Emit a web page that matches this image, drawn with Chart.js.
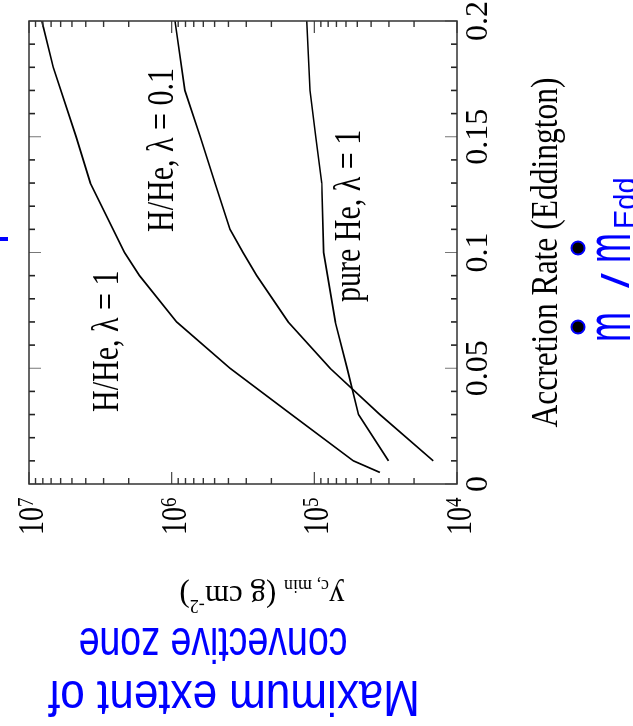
<!DOCTYPE html>
<html>
<head>
<meta charset="utf-8">
<title>Convective zone vs accretion rate</title>
<script src="https://cdn.jsdelivr.net/npm/chart.js@4.4.1/dist/chart.umd.min.js"></script>
<style>
html, body { margin: 0; padding: 0; background: #fff; overflow: hidden; }
/* the figure is laid out as a normal 726x633 chart and then turned a quarter turn anticlockwise */
#wrap {
    position: absolute; left: 0; top: 0;
    width: 726px; height: 633px;
    transform-origin: 0 0;
    transform: translateY(726px) rotate(-90deg);
}
</style>
</head>
<body>
<div id="wrap"><canvas id="chart" width="726" height="633"></canvas></div>
<script>
// ============================================================================
// Data
// ============================================================================

// H/He, lambda = 1
const rateHHe1  = [0.005, 0.01, 0.03, 0.05, 0.07, 0.09, 0.1, 0.13, 0.15, 0.18, 0.2];
const depthHHe1 = [34700, 53300, 144500, 390000, 922000, 1679000, 2138000, 3715000, 4677000, 6761000, 8128000];

// H/He, lambda = 0.1
const rateHHe01  = [0.01, 0.03, 0.05, 0.07, 0.09, 0.1, 0.11, 0.13, 0.15, 0.17, 0.2];
const depthHHe01 = [14660, 34700, 77600, 152400, 253500, 316000, 390000, 496600, 631000, 807000, 948000];

// pure He, lambda = 1
const rateHe  = [0.01, 0.03, 0.05, 0.07, 0.1, 0.13, 0.15, 0.17, 0.2];
const depthHe = [30200, 49000, 58900, 71300, 86100, 88700, 97700, 107200, 113000];

// Axes
const xTickValues = [0, 0.05, 0.1, 0.15, 0.2];
const xTickLabels = ['0', '0.05', '0.1', '0.15', '0.2'];
const xMinorStep = 0.01;
const yDecades = [4, 5, 6, 7];

const SERIF = '"Liberation Serif", "Times New Roman", serif';
const SANS = '"Liberation Sans", Arial, sans-serif';
const BLUE = '#0000ff';

const toPoints = (xs, ys) => xs.map((x, i) => ({ x: x, y: ys[i] }));

// ============================================================================
// Text helpers
// ============================================================================

function drawText(ctx, text, x, y, o) {
    ctx.save();
    ctx.translate(x, y);
    if (o.rot) ctx.rotate(o.rot);
    ctx.scale(o.sx || 1, o.sy || 1);
    ctx.font = o.font;
    ctx.fillStyle = o.color || '#000';
    ctx.textAlign = o.align || 'left';
    ctx.textBaseline = 'alphabetic';
    ctx.fillText(text, 0, 0);
    ctx.restore();
}

// pieces: [{t, size, dy}] drawn one after another along a (possibly rotated) baseline, centred
function drawRich(ctx, pieces, x, y, o) {
    ctx.save();
    ctx.translate(x, y);
    if (o.rot) ctx.rotate(o.rot);
    ctx.scale(o.sx || 1, o.sy || 1);
    ctx.fillStyle = o.color || '#000';
    ctx.textBaseline = 'alphabetic';
    ctx.textAlign = 'left';
    let total = 0;
    pieces.forEach(p => {
        ctx.font = p.size + 'px ' + o.family;
        p.w = ctx.measureText(p.t).width;
        total += p.w;
    });
    let cx = -total / 2;
    pieces.forEach(p => {
        ctx.font = p.size + 'px ' + o.family;
        ctx.fillText(p.t, cx, p.dy || 0);
        cx += p.w;
    });
    ctx.restore();
}

// ============================================================================
// Frame, ticks and labels
// ============================================================================

const framePlugin = {
    id: 'frame',
    afterDraw(chart) {
        const ctx = chart.ctx;
        const a = chart.chartArea;
        const xs = chart.scales.x;
        const ys = chart.scales.y;

        const seg = (x1, y1, x2, y2, color, width) => {
            ctx.strokeStyle = color;
            ctx.lineWidth = width;
            ctx.beginPath();
            ctx.moveTo(x1, y1);
            ctx.lineTo(x2, y2);
            ctx.stroke();
        };

        ctx.save();

        // ticks on the accretion-rate axis (bottom and mirrored on top)
        const nMinor = Math.round((xs.max - xs.min) / xMinorStep);
        for (let i = 0; i <= nMinor; i++) {
            const px = xs.getPixelForValue(xs.min + i * xMinorStep);
            const major = i % 5 === 0;
            const len = major ? 12 : 6;
            const col = major ? '#777' : '#222';
            const w = major ? 1 : 1.6;
            seg(px, a.bottom, px, a.bottom - len, col, w);
            seg(px, a.top, px, a.top + len, col, w);
        }

        // log ticks (left and mirrored on right)
        yDecades.forEach(d => {
            for (let m = 1; m <= 9; m++) {
                const v = m * Math.pow(10, d);
                if (v < ys.min || v > ys.max) continue;
                const py = ys.getPixelForValue(v);
                const major = m === 1;
                const len = major ? 12 : 6;
                const col = major ? '#444' : '#333';
                const w = major ? 1.2 : 1.4;
                seg(a.left, py, a.left + len, py, col, w);
                seg(a.right, py, a.right - len, py, col, w);
            }
        });

        // frame
        ctx.strokeStyle = '#333';
        ctx.lineWidth = 1.5;
        ctx.strokeRect(a.left, a.top, a.right - a.left, a.bottom - a.top);

        // x tick labels
        xTickValues.forEach((v, i) => {
            drawText(ctx, xTickLabels[i], xs.getPixelForValue(v), a.bottom + 30,
                { font: '32px ' + SERIF, align: 'center' });
        });

        // y tick labels: 10 with superscript exponent
        yDecades.forEach(d => {
            const py = ys.getPixelForValue(Math.pow(10, d));
            drawText(ctx, '10', a.left - 23, py + 14, { font: '28px ' + SERIF, align: 'right', sy: 1.25 });
            drawText(ctx, String(d), a.left - 23, py + 4, { font: '19px ' + SERIF, align: 'left', sy: 1.25 });
        });

        // axis titles (black)
        drawText(ctx, 'Accretion Rate (Eddington)', (a.left + a.right) / 2, 557,
            { font: '31.5px ' + SERIF, align: 'center', sy: 1.2 });

        drawRich(ctx, [
            { t: 'y', size: 31 },
            { t: 'c, min', size: 18, dy: 6 },
            { t: ' (g cm', size: 31 },
            { t: '-2', size: 18, dy: -14 },
            { t: ')', size: 31 }
        ], 140, 262, { rot: -Math.PI / 2, family: SERIF });

        // curve labels
        const lab = { font: '30px ' + SERIF, sy: 1.25 };
        drawText(ctx, 'H/He, \u03bb = 1', 314, 118, lab);
        drawText(ctx, 'H/He, \u03bb = 0.1', 494, 173, lab);
        drawText(ctx, 'pure He, \u03bb = 1', 424, 360, lab);

        // blue annotations
        drawText(ctx, 'Maximum extent of', 45, 234,
            { font: '44px ' + SANS, color: BLUE, rot: -Math.PI / 2, align: 'center', sy: 1.12 });
        drawText(ctx, 'convective zone', 98, 213,
            { font: '37.5px ' + SANS, color: BLUE, rot: -Math.PI / 2, align: 'center', sy: 1.35 });

        const mOpts = { font: '36px ' + SANS, color: BLUE, sy: 1.75 };
        drawText(ctx, 'm', 384, 630, mOpts);
        drawText(ctx, '/', 438, 629, { font: '38px ' + SANS, color: BLUE, sx: 1.4 });
        drawText(ctx, 'm', 463, 630, mOpts);
        drawText(ctx, 'Edd', 497, 636, { font: '29px ' + SANS, color: BLUE, sy: 1.1 });
        [399, 478].forEach(cx => {
            ctx.beginPath();
            ctx.arc(cx, 578, 6.5, 0, Math.PI * 2);
            ctx.fillStyle = '#000';
            ctx.fill();
            ctx.strokeStyle = BLUE;
            ctx.lineWidth = 2;
            ctx.stroke();
        });

        // small stray blue stroke at the edge of the figure
        ctx.fillStyle = BLUE;
        ctx.fillRect(485, 0, 4, 8);

        ctx.restore();
    }
};

// ============================================================================
// Chart
// ============================================================================

const lineStyle = {
    borderColor: '#000',
    borderWidth: 1.7,
    pointRadius: 0,
    tension: 0,
    fill: false
};

new Chart(document.getElementById('chart'), {
    type: 'line',
    data: {
        datasets: [
            Object.assign({ label: 'H/He, \u03bb = 1', data: toPoints(rateHHe1, depthHHe1) }, lineStyle),
            Object.assign({ label: 'H/He, \u03bb = 0.1', data: toPoints(rateHHe01, depthHHe01) }, lineStyle),
            Object.assign({ label: 'pure He, \u03bb = 1', data: toPoints(rateHe, depthHe) }, lineStyle)
        ]
    },
    options: {
        responsive: false,
        animation: false,
        layout: { padding: { left: 0, right: 21, top: 29, bottom: 0 } },
        plugins: { legend: { display: false }, tooltip: { enabled: false } },
        scales: {
            x: {
                type: 'linear', min: 0, max: 0.2,
                grid: { display: false }, border: { display: false },
                ticks: { display: false },
                afterFit: s => { s.height = 176; }
            },
            y: {
                type: 'logarithmic', min: 1e4, max: 1e7,
                grid: { display: false }, border: { display: false },
                ticks: { display: false },
                afterFit: s => { s.width = 242; }
            }
        }
    },
    plugins: [framePlugin]
});
</script>
</body>
</html>
